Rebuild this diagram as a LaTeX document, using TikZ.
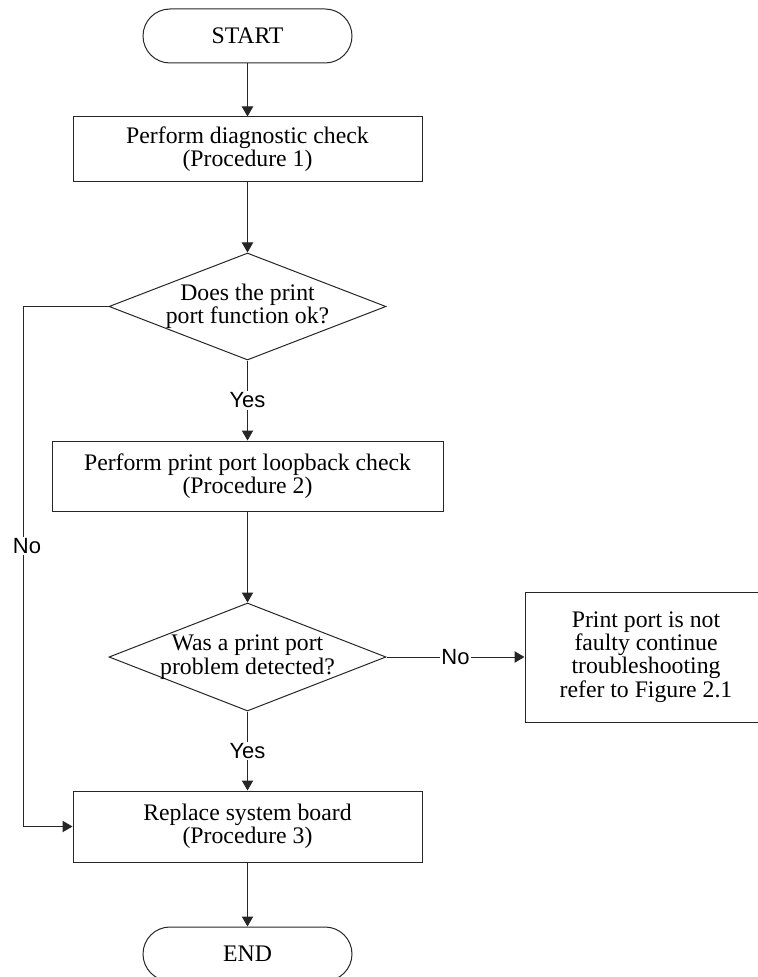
\documentclass[tikz,border=0pt]{standalone}
\usepackage{fontspec}
\setmainfont{Liberation Serif}
\newfontfamily\labelfont{Liberation Sans}
\usetikzlibrary{shapes.geometric,arrows.meta}
\begin{document}
\begin{tikzpicture}[x=0.75pt,y=-0.75pt,
 every node/.style={font=\fontsize{17.8}{17.5}\selectfont},
 base/.style={draw=black!85, line width=0.75pt},
 term/.style={base, rectangle, rounded corners=20.25pt, minimum width=156.75pt, minimum height=40.5pt, inner sep=0pt},
 proc/.style={base, rectangle, align=center, inner sep=0pt},
 decision/.style={base, diamond, inner sep=0pt},
 flow/.style={draw=black!85, line width=0.75pt, -{Triangle[length=7.5pt,width=8.5pt]}},
 lbl/.style={font=\labelfont\fontsize{16.5}{16.5}\selectfont, fill=white, inner sep=1pt}
]
\useasboundingbox (0,0) rectangle (757,977);
\node[term] (start) at (247.5,36) {START};
\node[proc, minimum width=261.75pt, minimum height=48pt] (p1) at (247.5,149) {Perform diagnostic check\\(Procedure 1)};
\node[decision, minimum width=207.75pt, minimum height=80.25pt] (d1) at (247.5,306.5) {};
\node[align=center, inner sep=0pt] (d1t) at (d1.center) {Does the print\\port function ok?};
\node[proc, minimum width=293.25pt, minimum height=52.5pt] (p2) at (247.5,476) {Perform print port loopback check\\(Procedure 2)};
\node[decision, minimum width=207.75pt, minimum height=81pt] (d2) at (247.5,657) {};
\node[align=center, inner sep=0pt] (d2t) at (d2.center) {Was a print port\\problem detected?};
\node[proc, minimum width=181.5pt, minimum height=97.5pt] (r) at (646,657) {Print port is not\\faulty continue\\troubleshooting\\refer to Figure 2.1};
\node[proc, minimum width=261.75pt, minimum height=53.25pt] (p3) at (247.5,826.5) {Replace system board\\(Procedure 3)};
\node[term] (end) at (247.5,954) {END};
\coordinate (nl) at (23,306.5);
\coordinate (nb) at (23,826.5);
\draw[flow] (start) -- (p1);
\draw[flow] (p1) -- (d1);
\draw[flow] (d1.south) -- node[lbl]{Yes} (p2.north);
\draw[flow] (p2) -- (d2);
\draw[flow] (d2.east) -- node[lbl]{No} (r.west);
\draw[flow] (d2.south) -- node[lbl]{Yes} (p3.north);
\draw[flow] (p3) -- (end);
\draw[flow] (d1.west) -- (nl) -- node[lbl, pos=0.46, xshift=3pt]{No} (nb) -- (p3.west);
\end{tikzpicture}
\end{document}
